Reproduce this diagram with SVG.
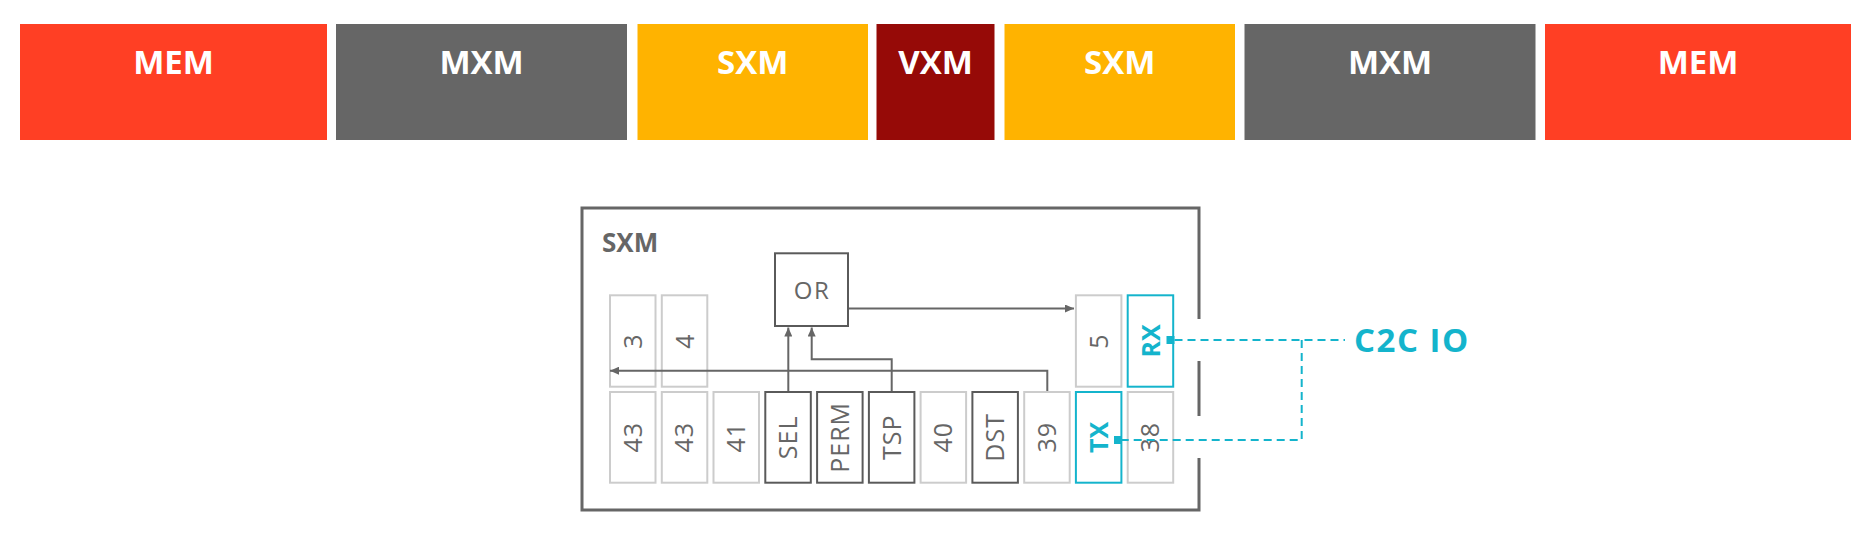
<svg xmlns="http://www.w3.org/2000/svg" width="1862" height="539" viewBox="0 0 1862 539">
<style>
.bar text{font-family:"Open Sans","Liberation Sans",sans-serif;font-weight:700;font-size:33px;fill:#fff;text-anchor:middle}
.cell{fill:#fff;stroke:#cccccc;stroke-width:2}
.dark{fill:#fff;stroke:#5a5a5a;stroke-width:2}
.cyanbox{fill:#fff;stroke:#14b4cc;stroke-width:2}
.lbl{font-family:"Open Sans","Liberation Sans",sans-serif;font-size:25px;fill:#666;text-anchor:middle;letter-spacing:1px}
.lblc{font-family:"Open Sans","Liberation Sans",sans-serif;font-size:25px;font-weight:700;fill:#14b4cc;text-anchor:middle}
.conn{fill:none;stroke:#666;stroke-width:2}
.dash{fill:none;stroke:#14b4cc;stroke-width:2;stroke-dasharray:8 5}
</style>
<defs>
<marker id="arr" markerUnits="userSpaceOnUse" markerWidth="9" markerHeight="8" refX="9" refY="4" orient="auto">
<path d="M0,0 L9,4 L0,8 z" fill="#666"/>
</marker>
</defs>
<rect width="1862" height="539" fill="#fff"/>
<g class="bar">
<g id="mem1"><rect x="20" y="24" width="307" height="116" fill="#ff3f24"/><text x="173.5" y="74">MEM</text></g>
<g id="mxm1"><rect x="336" y="24" width="291" height="116" fill="#666666"/><text x="481.5" y="74">MXM</text></g>
<g id="sxm1"><rect x="637.5" y="24" width="230.5" height="116" fill="#ffb300"/><text x="752.7" y="74">SXM</text></g>
<g id="vxm"><rect x="876.5" y="24" width="118" height="116" fill="#960a07"/><text x="935.5" y="74">VXM</text></g>
<g id="sxm2"><rect x="1004.5" y="24" width="230.5" height="116" fill="#ffb300"/><text x="1119.7" y="74">SXM</text></g>
<g id="mxm2"><rect x="1244.5" y="24" width="291" height="116" fill="#666666"/><text x="1390" y="74">MXM</text></g>
<g id="mem2"><rect x="1545" y="24" width="306" height="116" fill="#ff3f24"/><text x="1698" y="74">MEM</text></g>
</g>

<g id="sxm-frame">
<path d="M1199,319 V208 H582 V510 H1199 V458 M1199,361 V416" fill="none" stroke="#666" stroke-width="3"/>
<text x="602" y="252" font-family="Open Sans, Liberation Sans, sans-serif" font-weight="700" font-size="26" fill="#666">SXM</text>
</g>

<g id="or"><rect x="775" y="253.3" width="73" height="72.7" class="dark"/><text x="812" y="298.5" class="lbl" style="font-size:24px;letter-spacing:1.5px">OR</text></g>

<g id="c3"><rect x="610" y="295.3" width="45.5" height="91.4" class="cell"/><text x="632.8" y="350" class="lbl" transform="rotate(-90 632.8 341)">3</text></g>
<g id="c4"><rect x="661.8" y="295.3" width="45.5" height="91.4" class="cell"/><text x="684.5" y="350" class="lbl" transform="rotate(-90 684.5 341)">4</text></g>
<g id="c5"><rect x="1075.9" y="295.3" width="45.5" height="91.4" class="cell"/><text x="1098.7" y="350" class="lbl" transform="rotate(-90 1098.7 341)">5</text></g>
<g id="rx"><rect x="1127.7" y="295.3" width="45.5" height="91.4" class="cyanbox"/><text x="1150.5" y="350" class="lblc" transform="rotate(-90 1150.5 341)">RX</text><rect x="1166.5" y="336" width="8" height="8" fill="#14b4cc"/></g>

<g id="c43a"><rect x="610" y="392" width="45.5" height="90.7" class="cell"/><text x="632.8" y="446.3" class="lbl" transform="rotate(-90 632.8 437.3)">43</text></g>
<g id="c43b"><rect x="661.8" y="392" width="45.5" height="90.7" class="cell"/><text x="684.5" y="446.3" class="lbl" transform="rotate(-90 684.5 437.3)">43</text></g>
<g id="c41"><rect x="713.5" y="392" width="45.5" height="90.7" class="cell"/><text x="736.3" y="446.3" class="lbl" transform="rotate(-90 736.3 437.3)">41</text></g>
<g id="sel"><rect x="765.3" y="392" width="45.5" height="90.7" class="dark"/><text x="788" y="446.3" class="lbl" transform="rotate(-90 788 437.3)">SEL</text></g>
<g id="perm"><rect x="817.1" y="392" width="45.5" height="90.7" class="dark"/><text x="839.8" y="446.3" class="lbl" transform="rotate(-90 839.8 437.3)">PERM</text></g>
<g id="tsp"><rect x="868.9" y="392" width="45.5" height="90.7" class="dark"/><text x="891.6" y="446.3" class="lbl" transform="rotate(-90 891.6 437.3)">TSP</text></g>
<g id="c40"><rect x="920.6" y="392" width="45.5" height="90.7" class="cell"/><text x="943.4" y="446.3" class="lbl" transform="rotate(-90 943.4 437.3)">40</text></g>
<g id="dst"><rect x="972.4" y="392" width="45.5" height="90.7" class="dark"/><text x="995.2" y="446.3" class="lbl" transform="rotate(-90 995.2 437.3)">DST</text></g>
<g id="c39"><rect x="1024.2" y="392" width="45.5" height="90.7" class="cell"/><text x="1047" y="446.3" class="lbl" transform="rotate(-90 1047 437.3)">39</text></g>
<g id="tx"><rect x="1075.9" y="392" width="45.5" height="90.7" class="cyanbox"/><text x="1098.7" y="446.3" class="lblc" transform="rotate(-90 1098.7 437.3)">TX</text><rect x="1114" y="436" width="8" height="8" fill="#14b4cc"/></g>
<g id="c38"><rect x="1127.7" y="392" width="45.5" height="90.7" class="cell"/><text x="1150.5" y="446.3" class="lbl" transform="rotate(-90 1150.5 437.3)">38</text></g>

<g id="c2c-label"><text x="1354" y="351.7" font-family="Open Sans, Liberation Sans, sans-serif" font-weight="700" font-size="33" letter-spacing="1.5" fill="#14b4cc">C2C IO</text></g>

<g id="connectors">
<path class="conn" d="M849,308.5 H1074" marker-end="url(#arr)"/>
<path class="conn" d="M788.3,391 V327.5" marker-end="url(#arr)"/>
<path class="conn" d="M891.7,391 V359.3 H811.7 V327.5" marker-end="url(#arr)"/>
<path class="conn" d="M1047.3,391 V370.7 H610" marker-end="url(#arr)"/>
<path class="dash" d="M1174.5,340 H1345"/>
<path class="dash" d="M1301.7,340 V440 H1122"/>
</g>
</svg>
